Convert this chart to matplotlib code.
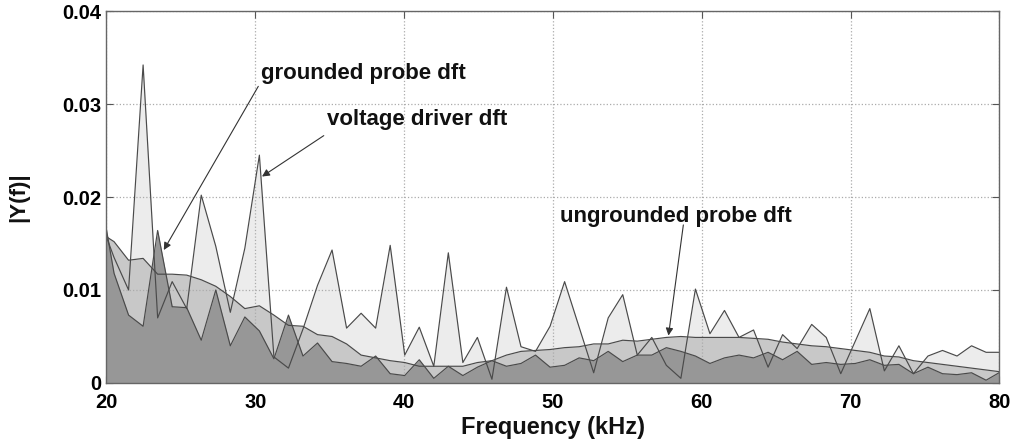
import numpy as np
import matplotlib
matplotlib.use("Agg")
import matplotlib.pyplot as plt

plt.rcParams["font.family"] = ["Liberation Sans", "DejaVu Sans"]

# dft bins 20..82, bin width 1000/1024 kHz
bins = np.arange(20, 83)
bin_khz = 1000 / 1024

voltage_driver = [
    0.0177, 0.0135, 0.0100, 0.0342, 0.0070, 0.0109, 0.0080, 0.0202, 0.0147, 0.0076,
    0.0145, 0.0245, 0.0028, 0.0016, 0.0058, 0.0105, 0.0143, 0.0059, 0.0075, 0.0059,
    0.0148, 0.0030, 0.0060, 0.0018, 0.0140, 0.0022, 0.0049, 0.0004, 0.0103, 0.0039,
    0.0034, 0.0061, 0.0109, 0.0060, 0.0011, 0.0070, 0.0095, 0.0030, 0.0049, 0.0019,
    0.0005, 0.0101, 0.0053, 0.0078, 0.0049, 0.0057, 0.0017, 0.0052, 0.0037, 0.0063,
    0.0049, 0.0010, 0.0045, 0.0080, 0.0013, 0.0040, 0.0010, 0.0029, 0.0035, 0.0029,
    0.0040, 0.0033, 0.0033,
]
ungrounded_probe = [
    0.0162, 0.0152, 0.0132, 0.0134, 0.0117, 0.0117, 0.0116, 0.0111, 0.0104, 0.0093,
    0.0080, 0.0083, 0.0073, 0.0062, 0.0061, 0.0052, 0.0050, 0.0042, 0.0030, 0.0027,
    0.0024, 0.0022, 0.0018, 0.0018, 0.0018, 0.0018, 0.0022, 0.0024, 0.0030, 0.0034,
    0.0035, 0.0036, 0.0038, 0.0039, 0.0042, 0.0042, 0.0046, 0.0045, 0.0047, 0.0049,
    0.0050, 0.0049, 0.0049, 0.0049, 0.0049, 0.0048, 0.0047, 0.0044, 0.0042, 0.0040,
    0.0039, 0.0037, 0.0035, 0.0033, 0.0029, 0.0028, 0.0024, 0.0022, 0.0020, 0.0018,
    0.0016, 0.0014, 0.0012,
]
grounded_probe = [
    0.0208, 0.0118, 0.0073, 0.0061, 0.0164, 0.0082, 0.0081, 0.0046, 0.0100, 0.0040,
    0.0071, 0.0056, 0.0026, 0.0073, 0.0029, 0.0043, 0.0023, 0.0021, 0.0018, 0.0029,
    0.0010, 0.0008, 0.0025, 0.0005, 0.0018, 0.0008, 0.0017, 0.0024, 0.0018, 0.0021,
    0.0030, 0.0017, 0.0019, 0.0027, 0.0024, 0.0034, 0.0023, 0.0030, 0.0030, 0.0038,
    0.0034, 0.0029, 0.0021, 0.0027, 0.0030, 0.0027, 0.0033, 0.0025, 0.0034, 0.0020,
    0.0022, 0.0020, 0.0021, 0.0025, 0.0019, 0.0020, 0.0010, 0.0017, 0.0010, 0.0009,
    0.0011, 0.0003, 0.0012,
]

x_ticks = [20, 30, 40, 50, 60, 70, 80]
y_ticks = [0, 0.01, 0.02, 0.03, 0.04]
y_tick_labels = ["0", "0.01", "0.02", "0.03", "0.04"]

freq = bins * bin_khz

fig = plt.figure(figsize=(10.18, 4.44), dpi=100)
ax = fig.add_axes([0.1046, 0.1374, 0.8772, 0.8378])

series = [
    (voltage_driver, "#ececec"),
    (ungrounded_probe, "#c8c8c8"),
    (grounded_probe, "#979797"),
]
for i, (vals, col) in enumerate(series):
    ax.fill_between(freq, 0, vals, color=col, lw=0, zorder=1 + i)
for vals, col in series:
    ax.plot(freq, vals, color="#4a4a4a", lw=0.85, zorder=6)

ax.set_xlim(20, 80)
ax.set_ylim(0, 0.04)
ax.set_xticks(x_ticks)
ax.set_yticks(y_ticks)
ax.set_yticklabels(y_tick_labels)
ax.grid(True, color="#ababab", linestyle=":", lw=0.9, zorder=5)
ax.set_axisbelow(False)
for gl in ax.get_xgridlines() + ax.get_ygridlines():
    gl.set_zorder(5)

ax.tick_params(direction="in", top=True, right=True, length=5, width=0.8,
               color="#555555", labelsize=14.5, pad=4)
for lab in ax.get_xticklabels() + ax.get_yticklabels():
    lab.set_fontweight("bold")
ax.tick_params(axis="x", pad=7)
for sp in ax.spines.values():
    sp.set_color("#666666")
    sp.set_linewidth(1.0)
    sp.set_zorder(7)

ax.set_xlabel("Frequency (kHz)", fontsize=17, fontweight="bold", color="#111111", va="top")
ax.xaxis.set_label_coords(0.5, -0.09)
ax.set_ylabel("|Y(f)|", fontsize=16, fontweight="bold", color="#111111")
ax.yaxis.set_label_coords(-0.087, 0.5)

arrow = dict(arrowstyle="-|>", color="#333333", lw=0.8, mutation_scale=11,
             shrinkA=0, shrinkB=0)
ax.annotate("", xy=(23.85, 0.0143), xytext=(30.2, 0.0319), arrowprops=arrow, zorder=8)
ax.text(30.35, 0.0333, "grounded probe dft", fontsize=16, fontweight="bold",
        color="#111111", va="center", ha="left", zorder=8)

ax.annotate("", xy=(30.45, 0.0222), xytext=(34.6, 0.0266), arrowprops=arrow, zorder=8)
ax.text(34.8, 0.0283, "voltage driver dft", fontsize=16, fontweight="bold",
        color="#111111", va="center", ha="left", zorder=8)

ax.annotate("", xy=(57.76, 0.0051), xytext=(58.76, 0.0170), arrowprops=arrow, zorder=8)
ax.text(50.45, 0.0179, "ungrounded probe dft", fontsize=16, fontweight="bold",
        color="#111111", va="center", ha="left", zorder=8)

fig.savefig("out.png", dpi=100)
